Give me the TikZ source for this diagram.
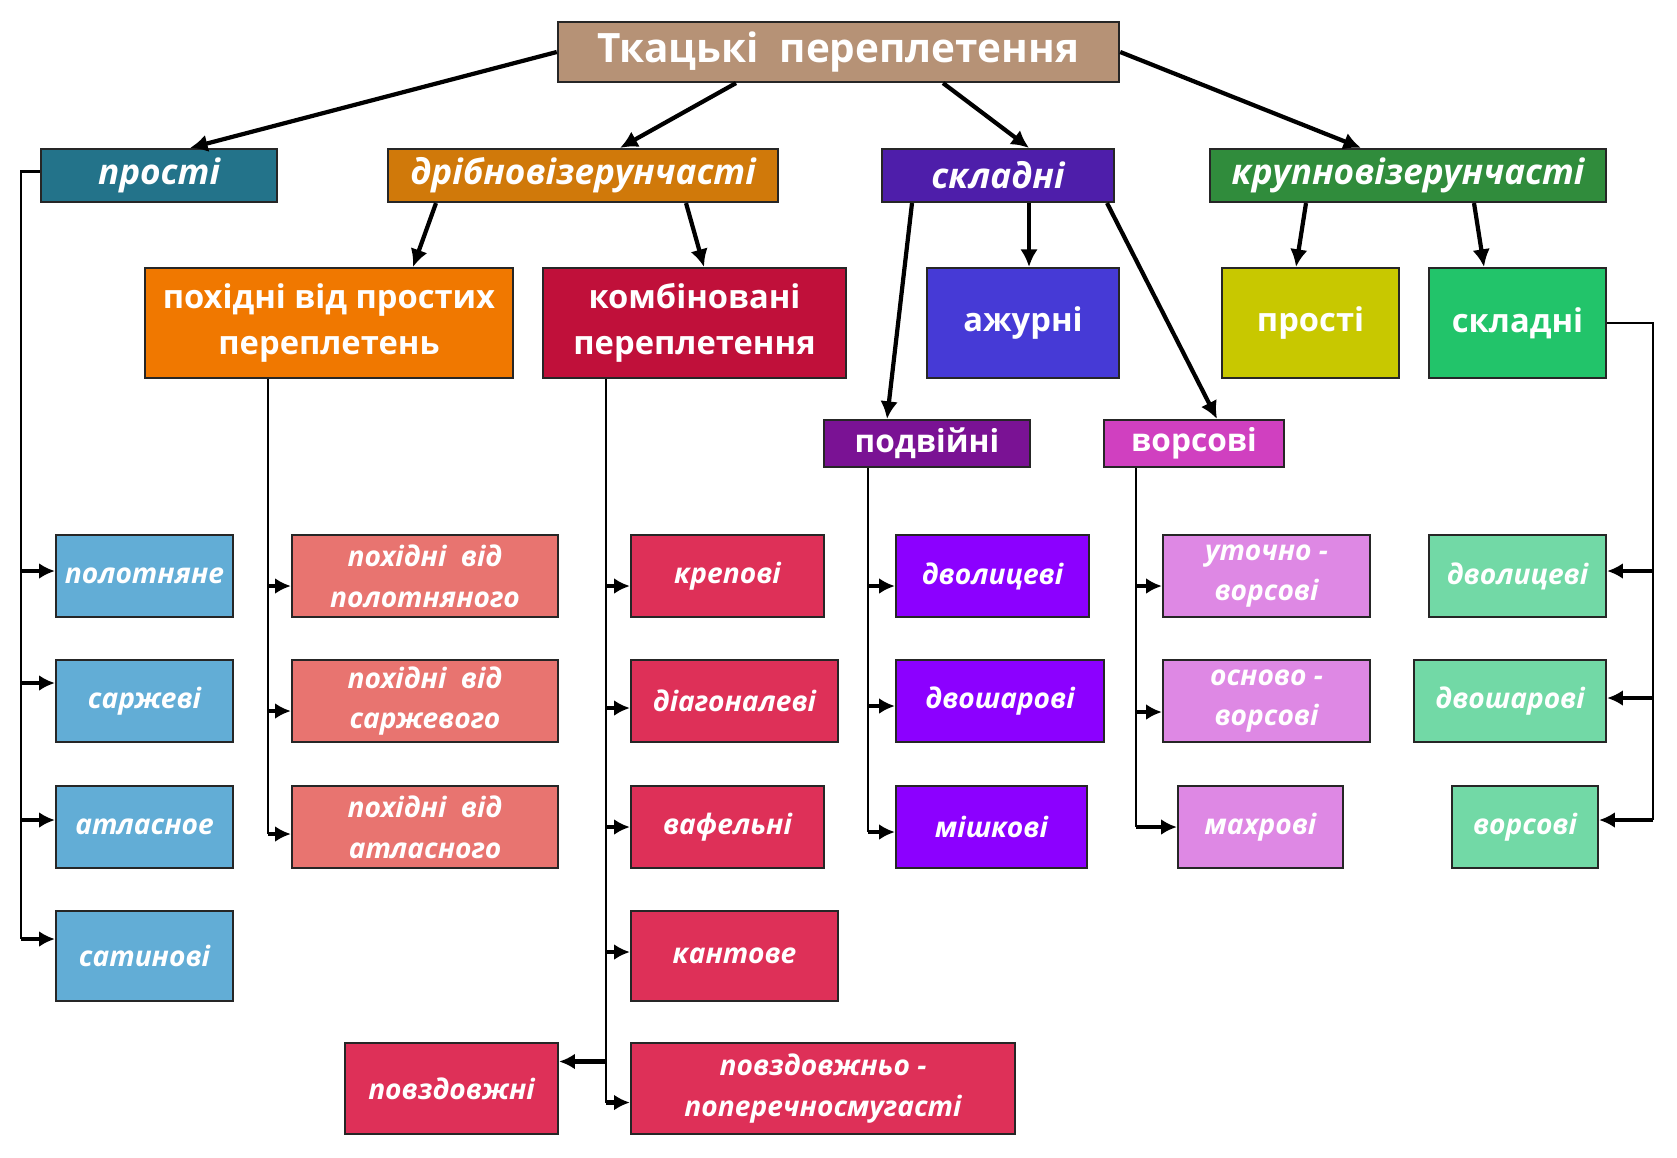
\documentclass[tikz,border=0pt]{standalone}
\usepackage{fontspec}
\setmainfont{Open Sans}
\usetikzlibrary{arrows.meta,calc}
\definecolor{ctitle}{RGB}{182,146,118}
\definecolor{cprosti}{RGB}{35,115,138}
\definecolor{cdribni}{RGB}{208,121,10}
\definecolor{cskladni}{RGB}{78,30,170}
\definecolor{ckrupni}{RGB}{48,140,60}
\definecolor{cpohidni}{RGB}{240,120,0}
\definecolor{ckombin}{RGB}{192,16,58}
\definecolor{cazhur}{RGB}{70,58,214}
\definecolor{ckprosti}{RGB}{200,200,0}
\definecolor{ckskladni}{RGB}{34,196,106}
\definecolor{cpodv}{RGB}{122,18,148}
\definecolor{cvors}{RGB}{208,64,192}
\definecolor{lblue}{RGB}{98,173,214}
\definecolor{lsalmon}{RGB}{232,116,112}
\definecolor{lred}{RGB}{222,48,88}
\definecolor{lviolet}{RGB}{140,0,255}
\definecolor{lpink}{RGB}{222,136,228}
\definecolor{lmint}{RGB}{114,217,166}
\tikzset{
    box/.style={draw=black!85, line width=0.6pt, text=white, align=center, inner sep=1pt},
    head/.style={box, fill=ctitle, minimum height=0.60cm, font=\bfseries\fontsize{11.5}{14}\selectfont},
    grp/.style={box, minimum height=0.53cm, font=\bfseries\itshape\fontsize{10}{12}\selectfont},
    sub/.style={box, minimum height=1.10cm, font=\bfseries\fontsize{9.3}{13}\selectfont},
    mid/.style={box, minimum height=0.47cm, font=\bfseries\fontsize{9}{11}\selectfont},
    leaf/.style={box, minimum height=0.82cm, font=\bfseries\itshape\fontsize{8}{11.6}\selectfont},
    conn/.style={line width=1.2pt, -{Latex[length=5pt,width=5pt]}},
    trunk/.style={line width=0.7pt},
    stub/.style={line width=1.3pt, -{Latex[length=4.5pt,width=4.5pt]}}
}
\begin{document}
\begin{tikzpicture}[x=0.01cm, y=-0.01cm]
\useasboundingbox (0,0) rectangle (1677,1157);
\coordinate (t1) at (21,0);
\coordinate (t2) at (268,0);
\coordinate (t3) at (606,0);
\coordinate (t4) at (868,0);
\coordinate (t5) at (1136,0);
\coordinate (t6) at (1653,0);
\node[head, minimum width=5.61cm] (tkani) at (838.5,52) {Ткацькі\ \ переплетення};
\node[grp, fill=cprosti, minimum width=2.36cm] (prosti) at (159,175.5) {прості};
\node[grp, fill=cdribni, minimum width=3.90cm] (dribni) at (583,175.5) {дрібновізерунчасті};
\node[grp, fill=cskladni, minimum width=2.32cm] (skladni) at (998,175.5) {складні};
\node[grp, fill=ckrupni, minimum width=3.96cm] (krupni) at (1408,175.5) {крупновізерунчасті};
\node[sub, fill=cpohidni, minimum width=3.68cm] (pohidni) at (329,323) {похідні від простих\\переплетень};
\node[sub, fill=ckombin, minimum width=3.03cm] (kombin) at (694.5,323) {комбіновані\\переплетення};
\node[sub, fill=cazhur, minimum width=1.92cm] (azhurni) at (1023,323) {ажурні};
\node[sub, fill=ckprosti, minimum width=1.77cm] (kprosti) at (1310.5,323) {прості};
\node[sub, fill=ckskladni, minimum width=1.77cm] (kskladni) at (1517.5,323) {складні};
\node[mid, fill=cpodv, minimum width=2.06cm] (podviini) at (927,443.5) {подвійні};
\node[mid, fill=cvors, minimum width=1.80cm] (vorsovi) at (1194,443.5) {ворсові};
\node[leaf, fill=lblue, minimum width=1.77cm] (polotn) at (144.5,576) {полотняне};
\node[leaf, fill=lblue, minimum width=1.77cm] (sarzh) at (144.5,701) {саржеві};
\node[leaf, fill=lblue, minimum width=1.77cm] (atlas) at (144.5,827) {атласное};
\node[leaf, fill=lblue, minimum width=1.77cm, minimum height=0.90cm] (satyn) at (144.5,956) {сатинові};
\node[leaf, fill=lsalmon, minimum width=2.66cm] (ppolotn) at (425,576) {похідні\ \ від\\полотняного};
\node[leaf, fill=lsalmon, minimum width=2.66cm] (psarzh) at (425,701) {похідні\ \ від\\саржевого};
\node[leaf, fill=lsalmon, minimum width=2.66cm] (patlas) at (425,827) {похідні\ \ від\\атласного};
\node[leaf, fill=lred, minimum width=1.93cm] (krep) at (727.5,576) {крепові};
\node[leaf, fill=lred, minimum width=2.07cm] (diag) at (734.5,701) {діагоналеві};
\node[leaf, fill=lred, minimum width=1.93cm] (vafel) at (727.5,827) {вафельні};
\node[leaf, fill=lred, minimum width=2.07cm, minimum height=0.90cm] (kant) at (734.5,956) {кантове};
\node[leaf, fill=lred, minimum width=3.84cm, minimum height=0.91cm] (povzdpop) at (823,1088.5) {повздовжньо -\\поперечносмугасті};
\node[leaf, fill=lred, minimum width=2.13cm, minimum height=0.91cm] (povzd) at (451.5,1088.5) {повздовжні};
\node[leaf, fill=lviolet, minimum width=1.93cm] (sdvol) at (992.5,576) {дволицеві};
\node[leaf, fill=lviolet, minimum width=2.08cm] (sdvosh) at (1000,701) {двошарові};
\node[leaf, fill=lviolet, minimum width=1.91cm] (mishk) at (991.5,827) {мішкові};
\node[leaf, fill=lpink, minimum width=2.07cm] (utoch) at (1266.5,576) {уточно -\\ворсові};
\node[leaf, fill=lpink, minimum width=2.07cm] (osnov) at (1266.5,701) {осново -\\ворсові};
\node[leaf, fill=lpink, minimum width=1.65cm] (mahr) at (1260.5,827) {махрові};
\node[leaf, fill=lmint, minimum width=1.77cm] (kdvol) at (1517.5,576) {дволицеві};
\node[leaf, fill=lmint, minimum width=1.92cm] (kdvosh) at (1510,701) {двошарові};
\node[leaf, fill=lmint, minimum width=1.46cm] (kvors) at (1525,827) {ворсові};
\draw[conn] (tkani.west) -- (prosti.north -| 190,0);
\draw[conn] (tkani.south -| 736,0) -- (dribni.north -| 620,0);
\draw[conn] (tkani.south -| 943,0) -- (skladni.north -| 1029,0);
\draw[conn] (tkani.east) -- (krupni.north -| 1361,0);
\draw[conn] (dribni.south -| 436,0) -- (pohidni.north -| 413,0);
\draw[conn] (dribni.south -| 686,0) -- (kombin.north -| 704,0);
\draw[conn] (skladni.south -| 912,0) -- (podviini.north -| 887,0);
\draw[conn] (skladni.south -| 1029,0) -- (azhurni.north -| 1029,0);
\draw[conn] (skladni.south -| 1107,0) -- (vorsovi.north -| 1217,0);
\draw[conn] (krupni.south -| 1306,0) -- (kprosti.north -| 1296,0);
\draw[conn] (krupni.south -| 1474,0) -- (kskladni.north -| 1484,0);
\draw[trunk] ($(prosti.west)+(0,-4)$) -- ($(t1 |- prosti.west)+(0,-4)$) -- ($(t1 |- satyn.west)+(0,-17)$);
\foreach \n/\d in {polotn/-5,sarzh/-18,atlas/-7,satyn/-17}
    \draw[stub] ($(t1 |- \n.west)+(0,\d)$) -- ($(\n.west)+(0,\d)$);
\draw[trunk] (t2 |- pohidni.south) -- ($(t2 |- patlas.west)+(0,7)$);
\foreach \n/\d in {ppolotn/10,psarzh/10,patlas/7}
    \draw[stub] ($(t2 |- \n.west)+(0,\d)$) -- ($(\n.west)+(0,\d)$);
\draw[trunk] (t3 |- kombin.south) -- ($(t3 |- povzdpop.west)+(0,14)$);
\foreach \n/\d in {krep/10,diag/7,vafel/0,kant/-4,povzdpop/14}
    \draw[stub] ($(t3 |- \n.west)+(0,\d)$) -- ($(\n.west)+(0,\d)$);
\draw[stub] ($(t3 |- povzd.east)+(0,-27)$) -- ($(povzd.east)+(0,-27)$);
\draw[trunk] (t4 |- podviini.south) -- ($(t4 |- mishk.west)+(0,5)$);
\foreach \n/\d in {sdvol/10,sdvosh/5,mishk/5}
    \draw[stub] ($(t4 |- \n.west)+(0,\d)$) -- ($(\n.west)+(0,\d)$);
\draw[trunk] (t5 |- vorsovi.south) -- (t5 |- mahr.west);
\foreach \n/\d in {utoch/10,osnov/11,mahr/0}
    \draw[stub] ($(t5 |- \n.west)+(0,\d)$) -- ($(\n.west)+(0,\d)$);
\draw[trunk] (kskladni.east) -- (t6 |- kskladni.east) -- ($(t6 |- kvors.east)+(0,-7)$);
\foreach \n/\d in {kdvol/-5,kdvosh/-3,kvors/-7}
    \draw[stub] ($(t6 |- \n.east)+(0,\d)$) -- ($(\n.east)+(0,\d)$);
\end{tikzpicture}
\end{document}
